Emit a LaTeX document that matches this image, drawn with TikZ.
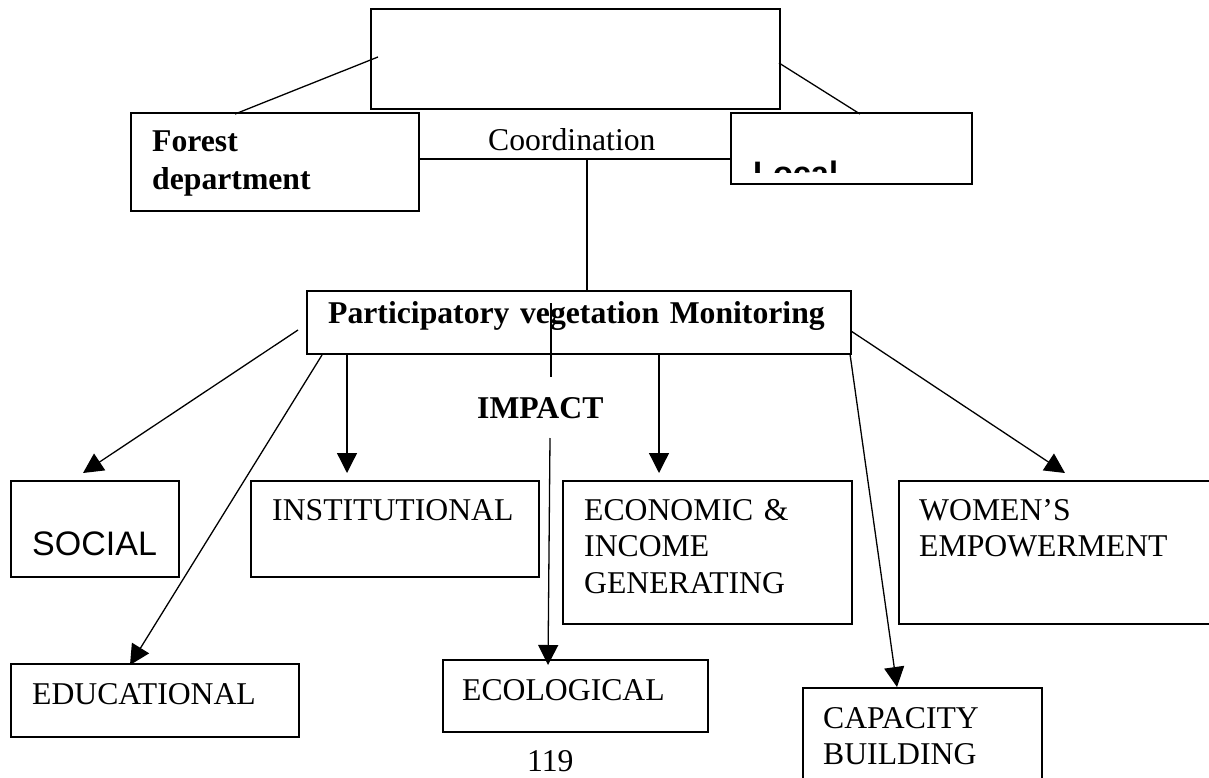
\documentclass[tikz,border=0pt]{standalone}
\usepackage{fontspec}
\setmainfont{Liberation Serif}
\setsansfont{Liberation Sans}
\usetikzlibrary{arrows.meta}

\tikzset{
  box/.style={draw, line width=1.6pt, inner sep=0pt, anchor=north west},
  lbl/.style={anchor=base west, inner sep=0pt, align=left, text width=700pt,
    font=\fontsize{31.7}{36.6}\selectfont},
  link/.style={line width=1.3pt},
  arr/.style={line width=1.3pt, -{Triangle[length=20pt,width=20pt]}},
}

\begin{document}
\begin{tikzpicture}[x=1pt, y=-1pt]
  \useasboundingbox (0,0) rectangle (1209,778);
  % the boxes
  \node[box, minimum width=409pt, minimum height=100pt] (top) at (370,8) {};
  \node[box, minimum width=288pt, minimum height=98pt] (forest) at (130,112) {};
  \node[box, minimum width=241pt, minimum height=71pt] (local) at (730,112) {};
  \node[box, minimum width=544pt, minimum height=63pt] (pvm) at (306,290) {};
  \node[box, minimum width=168pt, minimum height=96pt] (social) at (10,480) {};
  \node[box, minimum width=288pt, minimum height=96pt] (inst) at (250,480) {};
  \node[box, minimum width=289pt, minimum height=143pt] (econ) at (562,480) {};
  \node[box, minimum width=320pt, minimum height=143pt] (women) at (898,480) {};
  \node[box, minimum width=288pt, minimum height=73pt] (educ) at (10,663) {};
  \node[box, minimum width=265pt, minimum height=72pt] (ecol) at (442,659) {};
  \node[box, minimum width=239pt, minimum height=130pt] (capac) at (802,687) {};

  % texts
  \node[lbl, font=\fontsize{31.7}{38}\selectfont\bfseries] (forestlbl) at (152,152) {Forest\\department};
  \begin{scope}
    \clip (420,110) rectangle (728,151);
    \node[lbl] (coordlbl) at (488,151) {Coordination};
  \end{scope}
  \begin{scope}
    \clip (732,114) rectangle (969,173);
    \node[lbl, font=\fontsize{32.5}{36}\selectfont\sffamily\bfseries] (locallbl) at (753,185) {Local};
  \end{scope}
  \node[lbl, font=\fontsize{31.7}{36.6}\selectfont\bfseries] (pvmlbl) at (328,323) {Participatory vegetation Monitoring};
  \node[lbl, font=\fontsize{31.7}{36.6}\selectfont\bfseries] (impact) at (477,418) {IMPACT};
  \node[lbl, font=\fontsize{34}{38}\selectfont\sffamily] (sociallbl) at (32,555) {SOCIAL};
  \node[lbl] (instlbl) at (272,520) {INSTITUTIONAL};
  \node[lbl] (econlbl) at (584,520) {ECONOMIC \&\\INCOME\\GENERATING};
  \node[lbl] (womenlbl) at (919,520) {WOMEN’S\\EMPOWERMENT};
  \node[lbl] (educlbl) at (32,704) {EDUCATIONAL};
  \node[lbl] (ecollbl) at (462,700) {ECOLOGICAL};
  \node[lbl, font=\fontsize{31.7}{36}\selectfont] (capaclbl) at (823,728) {CAPACITY\\BUILDING};
  \node[lbl] (page) at (527,771) {119};

  % end points of the connectors
  \coordinate (tf1) at (378,57);   \coordinate (tf2) at (235,114);
  \coordinate (tl1) at (779,63);   \coordinate (tl2) at (860,114);
  \coordinate (co1) at (418,159);  \coordinate (co2) at (730,159);
  \coordinate (co3) at (587,159);  \coordinate (co4) at (587,290);
  \coordinate (im1) at (551,303);  \coordinate (im2) at (551,377);
  \coordinate (im3) at (550,438);  \coordinate (im4) at (548,665);
  \coordinate (so1) at (298,330);  \coordinate (so2) at (83,473);
  \coordinate (ed1) at (322,355);  \coordinate (ed2) at (130,665);
  \coordinate (in1) at (347,353);  \coordinate (in2) at (347,473);
  \coordinate (ec1) at (659,353);  \coordinate (ec2) at (659,473);
  \coordinate (ca1) at (850,354);  \coordinate (ca2) at (897,687);
  \coordinate (wo1) at (851,331);  \coordinate (wo2) at (1065,473);

  % the lines
  \draw[link] (tf1) -- (tf2);
  \draw[link] (tl1) -- (tl2);
  \draw[link] (co1) -- (co2);
  \draw[link] (co3) -- (co4);
  \draw[link] (im1) -- (im2);
  % the arrows
  \draw[arr] (im3) -- (im4);
  \draw[arr] (so1) -- (so2);
  \draw[arr] (ed1) -- (ed2);
  \draw[arr] (in1) -- (in2);
  \draw[arr] (ec1) -- (ec2);
  \draw[arr] (ca1) -- (ca2);
  \draw[arr] (wo1) -- (wo2);
\end{tikzpicture}
\end{document}
